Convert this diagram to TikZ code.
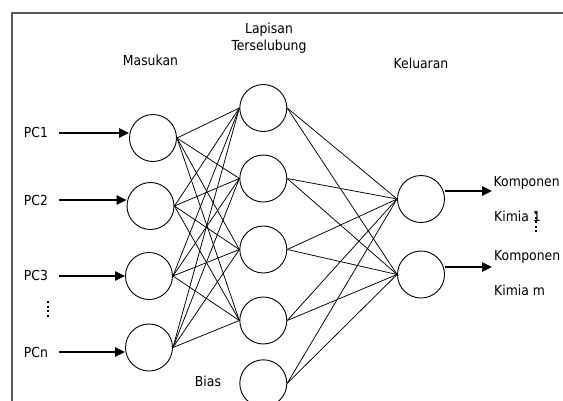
\documentclass[tikz,border=0pt]{standalone}
\usepackage{fontspec}
\setmainfont{DejaVu Sans Condensed}
\usetikzlibrary{arrows.meta}
\begin{document}
\begin{tikzpicture}[x=1pt,y=-1pt,
  neuron/.style={draw,circle,minimum size=47pt,inner sep=0pt,line width=0.9pt},
  link/.style={line width=0.75pt},
  feed/.style={line width=2.4pt,-{Triangle[length=10pt,width=9pt]}},
  lbl/.style={font=\fontsize{13.8}{16}\selectfont,inner sep=0pt},
  vdots/.style={line width=2pt,dash pattern=on 2pt off 2.6pt}]
\useasboundingbox (0,0) rectangle (563,400);

% outer frame (its right and bottom sides lie off the page)
\draw[line width=2pt,color=black!65] (12,13) rectangle (590,430);

% layer titles
\node[lbl,anchor=base] (tin)  at (150.5,65) {Masukan};
\node[lbl,anchor=base] (thid1) at (269,33) {Lapisan};
\node[lbl,anchor=base] (thid2) at (269,50) {Terselubung};
\node[lbl,anchor=base] (tout) at (421,68.5) {Keluaran};

% input layer
\node[neuron] (i1) at (153,138) {};
\node[neuron] (i2) at (150.5,206) {};
\node[neuron] (i3) at (149,276) {};
\node[neuron] (i4) at (149,347.5) {};

% hidden layer
\node[neuron] (h1) at (263.3,108) {};
\node[neuron] (h2) at (263.3,178.5) {};
\node[neuron] (h3) at (263.3,249.5) {};
\node[neuron] (h4) at (263.3,320.5) {};
\node[neuron] (bias) at (263.3,383.3) {};
\node[lbl] (biaslbl) at (208,381) {Bias};

% output layer
\node[neuron] (o1) at (421,199) {};
\node[neuron] (o2) at (421,274.5) {};

% weights
\foreach \i in {1,...,4}
  \foreach \h in {1,...,4}
    \draw[link] (i\i.east) -- (h\h.west);
\foreach \h in {h1,h2,h3,h4,bias}
  \foreach \o in {o1,o2}
    \draw[link] (\h.east) -- (\o.west);

% inputs
\node[lbl] (pc1) at (36,132.5) {PC1};
\node[lbl] (pc2) at (36,200) {PC2};
\node[lbl] (pc3) at (36,275.5) {PC3};
\node[lbl] (pcn) at (36,352) {PCn};
\coordinate (a1) at (58.5,133);
\coordinate (a2) at (58.5,200);
\coordinate (a3) at (58.5,276);
\coordinate (a4) at (58.5,352);
\draw[feed] (a1) -- (a1 -| i1.west);
\draw[feed] (a2) -- (a2 -| i2.west);
\draw[feed] (a3) -- (a3 -| i3.west);
\draw[feed] (a4) -- (a4 -| i4.west);
\draw[vdots] (48,301) -- (48,319);

% outputs
\coordinate (b1) at (492,191);
\coordinate (b2) at (492,267);
\draw[feed] (b1 -| o1.east) -- (b1);
\draw[feed] (b2 -| o2.east) -- (b2);
\node[lbl,anchor=base west] (k1a) at (493.5,186) {Komponen};
\node[lbl,anchor=base west] (k1b) at (494,221.5) {Kimia 1};
\node[lbl,anchor=base west] (k2a) at (494,260) {Komponen};
\node[lbl,anchor=base west] (k2b) at (494,295) {Kimia m};
\draw[vdots] (535.5,212) -- (535.5,233);
\end{tikzpicture}
\end{document}
